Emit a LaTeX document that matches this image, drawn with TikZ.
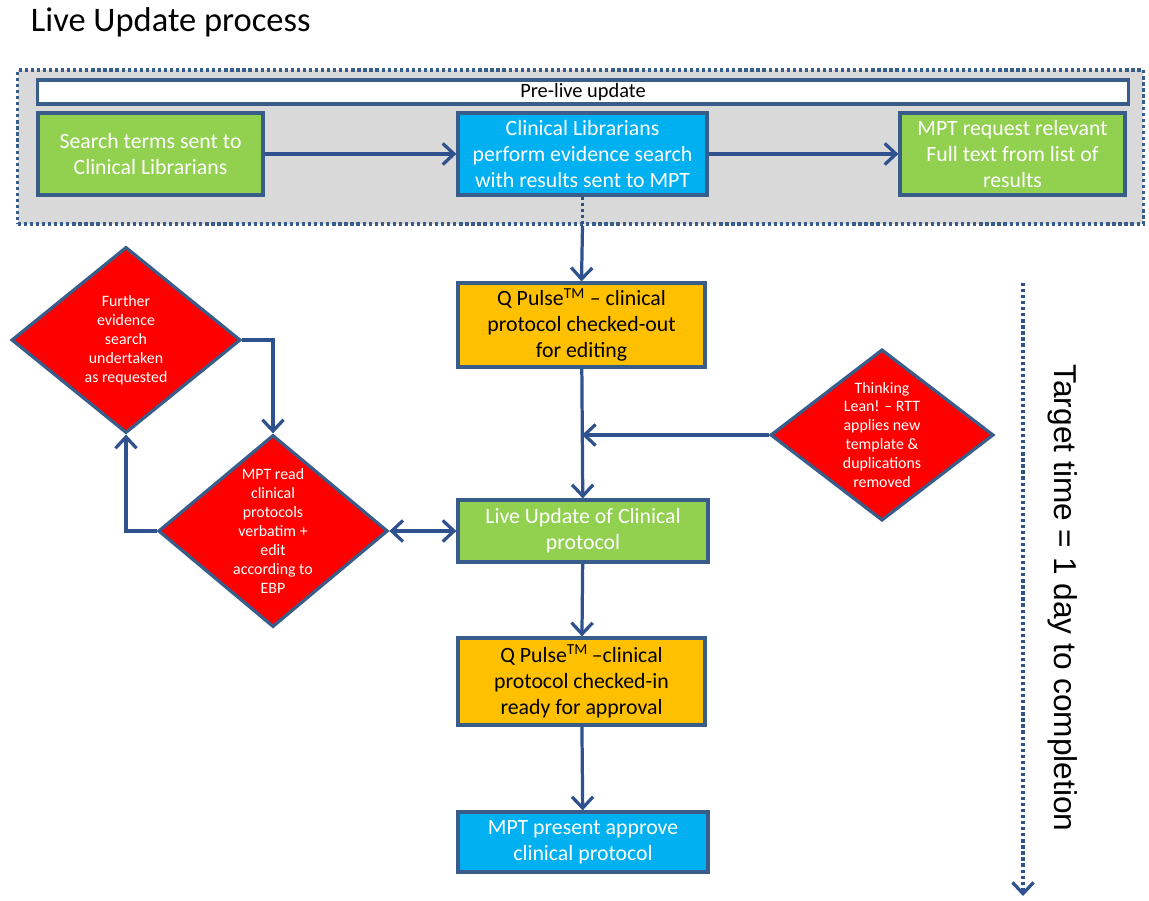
\documentclass[tikz,border=0pt]{standalone}
\usepackage{fontspec}
\setmainfont{Carlito}
\newfontfamily\arialfont{Liberation Sans}
\usepackage{tikz}
\usetikzlibrary{arrows.meta,shapes.geometric,positioning}

\definecolor{lineblue}{HTML}{385D8A}
\definecolor{arrowblue}{HTML}{2F528F}
\definecolor{boxgreen}{HTML}{92D050}
\definecolor{boxblue}{HTML}{00B0F0}
\definecolor{boxorange}{HTML}{FFC000}
\definecolor{boxred}{HTML}{FF0000}
\definecolor{panelgrey}{HTML}{D9D9D9}

\begin{document}
\begin{tikzpicture}[y=-0.025cm,x=0.025cm,
	box/.style={draw=lineblue, line width=2.3pt, align=center, inner sep=2pt, font=\fontsize{15.5}{18.5}\selectfont},
	greenbox/.style={box, fill=boxgreen, text=white},
	bluebox/.style={box, fill=boxblue, text=white},
	orangebox/.style={box, fill=boxorange, text=black},
	decision/.style={diamond, draw=lineblue, line width=2.3pt, fill=boxred, text=white, align=center, inner sep=0pt, aspect=1.2, font=\fontsize{11.3}{13.5}\selectfont},
	flow/.style={draw=arrowblue, line width=2.3pt, -{Straight Barb[length=8pt,width=15pt,line width=2.3pt]}},
	]
	\useasboundingbox (0,0) rectangle (1149,900);

	\node[anchor=west, font=\fontsize{24.5}{28}\selectfont] (title) at (26,22) {Live Update process};

	% pre-live update panel
	\node[draw=lineblue, line width=2.3pt, dotted, fill=panelgrey, minimum width=28.125cm, minimum height=3.85cm] (panel) at (580.5,147) {};
	\node[draw=lineblue, line width=2.3pt, fill=white, minimum width=27.25cm, minimum height=0.6cm, inner sep=0pt, font=\fontsize{14.5}{16}\selectfont] (pre) at (583,92) {Pre-live update};
	\node[greenbox, minimum width=5.625cm, minimum height=2.05cm] (terms) at (150.5,154) {Search terms sent to\\Clinical Librarians};
	\node[bluebox, minimum width=6.225cm, minimum height=2.05cm] (search) at (582.5,154) {Clinical Librarians\\perform evidence search\\with results sent to MPT};
	\node[greenbox, minimum width=5.625cm, minimum height=2.05cm] (fulltext) at (1012.5,154) {MPT request relevant\\Full text from list of\\results};

	% main column
	\node[orangebox, minimum width=6.175cm, minimum height=2.1cm] (checkout) at (581.5,325) {Q Pulse\textsuperscript{TM} -- clinical\\protocol checked-out\\for editing};
	\node[greenbox, minimum width=6.25cm, minimum height=1.55cm] (live) at (583,531) {Live Update of Clinical\\protocol};
	\node[orangebox, minimum width=6.175cm, minimum height=2.175cm] (checkin) at (581.5,681.5) {Q Pulse\textsuperscript{TM}\,--clinical\\protocol checked-in\\ready for approval};
	\node[bluebox, minimum width=6.25cm, minimum height=1.5cm] (approve) at (583,842) {MPT present approve\\clinical protocol};

	% decisions
	\node[decision, minimum width=5.725cm, minimum height=4.65cm] (further) at (126,340) {Further\\evidence\\search\\undertaken\\as requested};
	\node[decision, minimum width=5.55cm, minimum height=4.8cm] (read) at (273,531) {MPT read\\clinical\\protocols\\verbatim +\\edit\\according to\\EBP};
	\node[decision, minimum width=5.575cm, minimum height=4.25cm] (lean) at (882,435) {Thinking\\Lean! -- RTT\\applies new\\template \&\\duplications\\removed};

	\coordinate (join) at (582,435);
	\coordinate (edge) at (search.south |- panel.south);
	\coordinate (ttop) at (1023,283);
	\coordinate (tbot) at (1023,896);

	\draw[flow] (terms) -- (search);
	\draw[flow] (search) -- (fulltext);
	\draw[draw=arrowblue, line width=2.3pt, dotted] (search.south) -- (edge);
	\draw[flow] (edge) -- (checkout.north);
	\draw[flow] (checkout) -- (live);
	\draw[flow] (lean.west) -- (join);
	\draw[flow, {Straight Barb[length=8pt,width=15pt,line width=2.3pt]}-{Straight Barb[length=8pt,width=15pt,line width=2.3pt]}] (read.east) -- (live.west);
	\draw[flow] (further.east) -| (read.north);
	\draw[flow] (read.west) -| (further.south);
	\draw[flow] (live) -- (checkin);
	\draw[flow] (checkin) -- (approve);

	% timeline
	\draw[flow, dotted] (ttop) -- (tbot);
	\node[rotate=-90, font=\arialfont\fontsize{22.5}{26}\selectfont] (target) at (1063,598) {Target time = 1 day to completion};
\end{tikzpicture}
\end{document}
